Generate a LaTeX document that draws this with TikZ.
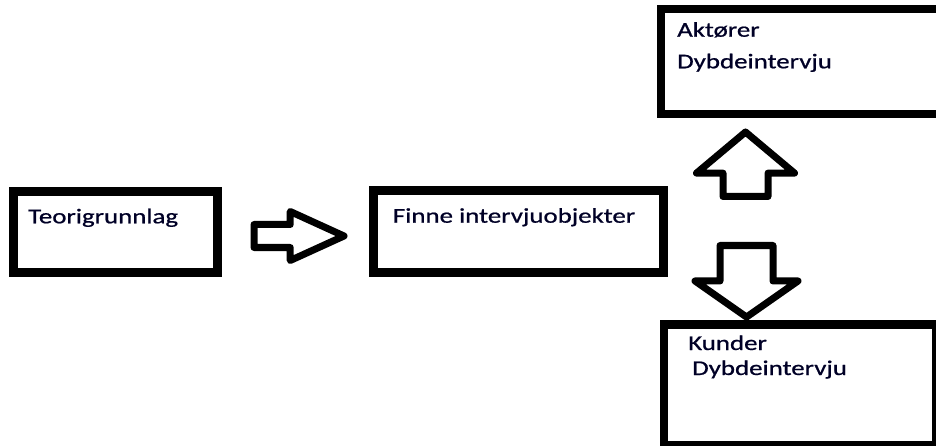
\documentclass[tikz,border=0pt]{standalone}
\usepackage{fontspec}
\setmainfont{Carlito}[FakeStretch=1.28, FakeBold=0.8]
\usetikzlibrary{shapes.arrows}

\begin{document}
\begin{tikzpicture}
    [x = 1pt, y = -1pt,
     box/.style = {rectangle, draw, line width = 8.5pt, outer sep = 0pt, inner sep = 0pt},
     txt/.style = {anchor = base west, inner sep = 0pt, text = black!85!blue,
                   font = \fontsize{21}{25}\selectfont},
     blockarr/.style = {single arrow, draw, line width = 7pt, line join = round,
                        outer sep = 0pt, anchor = tail}]
    \useasboundingbox (0,0) rectangle (936,446);
    \clip (0,0) rectangle (936,446);

    % boxes
    \node[box, minimum width = 204pt, minimum height = 81pt] (teori) at (115.5,232) {};
    \node[box, minimum width = 290pt, minimum height = 82pt] (finne) at (518.5,231.5) {};
    \node[box, minimum width = 281pt, minimum height = 105pt] (aktor) at (801.5,61.5) {};
    \node[box, minimum width = 272pt, minimum height = 120.5pt] (kunde) at (800,384.75) {};

    % texts
    \node[txt] (teoritxt) at (28,223.3) {Teorigrunnlag};
    \node[txt] (finnetxt) at (392.7,222.7) {Finne intervjuobjekter};
    \node[txt] (aktortxt) at (677,36.7) {Aktører};
    \node[txt] (aktordyb) at (677,68.3) {Dybdeintervju};
    \node[txt] (kundetxt) at (688,350) {Kunder};
    \node[txt] (kundedyb) at (692,375) {Dybdeintervju};

    % block arrows
    \node[blockarr, inner sep = 8pt, minimum width = 42pt, minimum height = 90pt,
          single arrow head extend = 13pt, single arrow tip angle = 49] (pil1) at (254,236) {};
    \node[blockarr, shape border rotate = 90, inner sep = 19pt, minimum width = 91pt,
          minimum height = 64.5pt, single arrow head extend = 26.5pt,
          single arrow tip angle = 100] (pil2) at (745.5,196.5) {};
    \node[blockarr, shape border rotate = 270, inner sep = 23pt, minimum width = 96pt,
          minimum height = 57.5pt, single arrow head extend = 25pt,
          single arrow tip angle = 110] (pil3) at (746.5,245.5) {};
\end{tikzpicture}
\end{document}
